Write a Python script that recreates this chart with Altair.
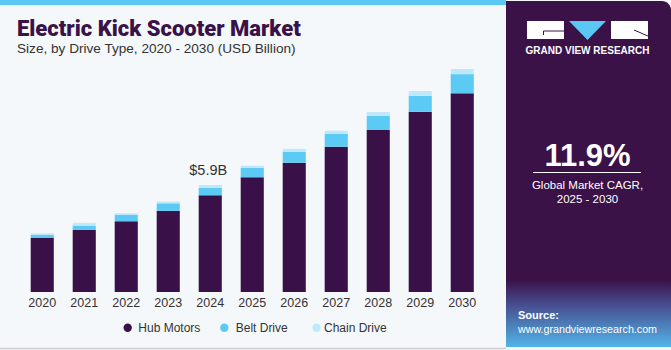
import altair as alt
import pandas as pd

years = ["2020", "2021", "2022", "2023", "2024", "2025", "2026", "2027", "2028", "2029", "2030"]
hub_motors = [2.98, 3.42, 3.90, 4.47, 5.33, 6.32, 7.13, 8.01, 8.93, 9.94, 10.95]
belt_drive = [0.17, 0.24, 0.35, 0.42, 0.42, 0.51, 0.59, 0.70, 0.79, 0.88, 1.06]
chain_drive = [0.09, 0.15, 0.09, 0.10, 0.15, 0.13, 0.17, 0.18, 0.20, 0.26, 0.28]
series = ["Hub Motors", "Belt Drive", "Chain Drive"]
colors = ["#3a1049", "#5bcbf5", "#bfe8fa"]

rows = []
for i, y in enumerate(years):
    for k, (name, vals) in enumerate(zip(series, [hub_motors, belt_drive, chain_drive])):
        rows.append({"year": y, "segment": name, "value": vals[i], "ord": k})
df = pd.DataFrame(rows)

label_year = "2024"
idx = years.index(label_year)
label_df = pd.DataFrame({
    "year": [label_year],
    "total": [hub_motors[idx] + belt_drive[idx] + chain_drive[idx]],
    "label": ["$5.9B"],
})
years_df = pd.DataFrame({"year": years})

FONT = "Liberation Sans"
PURPLE = "#3a1248"

xscale = alt.Scale(domain=years, range=[21.25, 483.25], paddingInner=0.45, paddingOuter=0.225)
yscale = alt.Scale(domain=[0, 12], range=[292, 74.3], nice=False, zero=True)

dummy = pd.DataFrame({"a": [0]})
base = alt.Chart(dummy)

top_bar = base.mark_rect(color="#5bc8f3").encode(
    x=alt.value(0), x2=alt.value(506), y=alt.value(0), y2=alt.value(5))
bottom_line = base.mark_rule(color="#cccccc", strokeWidth=1.5).encode(
    x=alt.value(0), x2=alt.value(506), y=alt.value(348.5))

panel = base.mark_rect(color=PURPLE, cornerRadiusTopRight=9).encode(
    x=alt.value(506), x2=alt.value(671), y=alt.value(1), y2=alt.value(347))
panel_grad = base.mark_rect(
    color=alt.LinearGradient(
        gradient="linear",
        stops=[alt.GradientStop(color=PURPLE, offset=0),
               alt.GradientStop(color="#474a8c", offset=0.35),
               alt.GradientStop(color="#52b4e8", offset=1)],
        x1=0, x2=0, y1=0, y2=1)
).encode(x=alt.value(506), x2=alt.value(671), y=alt.value(280), y2=alt.value(347))

logo_l = base.mark_rect(color="white").encode(
    x=alt.value(527), x2=alt.value(564), y=alt.value(21), y2=alt.value(39))
logo_r = base.mark_rect(color="white").encode(
    x=alt.value(611), x2=alt.value(648), y=alt.value(21), y2=alt.value(39))
logo_tri = base.mark_point(
    shape="M-1,-0.52L1,-0.52L0,0.52Z", filled=True, color="#5bc8f3", opacity=1, size=1369
).encode(x=alt.value(587.5), y=alt.value(30.5))
logo_g1 = base.mark_rule(color=PURPLE, strokeWidth=1).encode(
    x=alt.value(543.5), x2=alt.value(564), y=alt.value(31))
logo_g2 = base.mark_rule(color=PURPLE, strokeWidth=1).encode(
    x=alt.value(543.5), y=alt.value(31), y2=alt.value(35))
logo_r1 = base.mark_rule(color=PURPLE, strokeWidth=1).encode(
    x=alt.value(634), x2=alt.value(648), y=alt.value(30), y2=alt.value(36))
logo_text = base.mark_text(
    text="GRAND VIEW RESEARCH", font=FONT, fontSize=10, fontWeight="bold", color="white",
    align="center", baseline="middle"
).encode(x=alt.value(587.5), y=alt.value(51))

cagr = base.mark_text(
    text="11.9%", font=FONT, fontSize=31, fontWeight="bold", color="white",
    align="center", baseline="alphabetic"
).encode(x=alt.value(587.5), y=alt.value(165.5))
cagr_rule = base.mark_rule(color="white", strokeWidth=1).encode(
    x=alt.value(533), x2=alt.value(641), y=alt.value(172.5))
cagr_t1 = base.mark_text(
    text="Global Market CAGR,", font=FONT, fontSize=11.5, color="white",
    align="center", baseline="middle"
).encode(x=alt.value(587.5), y=alt.value(186))
cagr_t2 = base.mark_text(
    text="2025 - 2030", font=FONT, fontSize=11.5, color="white",
    align="center", baseline="middle"
).encode(x=alt.value(587.5), y=alt.value(200))
src1 = base.mark_text(
    text="Source:", font=FONT, fontSize=11, fontWeight="bold", color="white",
    align="left", baseline="middle"
).encode(x=alt.value(518), y=alt.value(316))
src2 = base.mark_text(
    text="www.grandviewresearch.com", font=FONT, fontSize=10.7, color="white",
    align="left", baseline="middle"
).encode(x=alt.value(518), y=alt.value(330))

title = base.mark_text(
    text="Electric Kick Scooter Market", font="Roboto", fontSize=22, fontWeight=900,
    color=PURPLE, align="left", baseline="alphabetic"
).encode(x=alt.value(17), y=alt.value(35.5))
subtitle = base.mark_text(
    text="Size, by Drive Type, 2020 - 2030 (USD Billion)", font=FONT, fontSize=13.6,
    color="#333333", align="left", baseline="alphabetic"
).encode(x=alt.value(17), y=alt.value(53))

bars = alt.Chart(df).mark_bar().encode(
    x=alt.X("year:N", scale=xscale, axis=None),
    y=alt.Y("value:Q", scale=yscale, axis=None, stack="zero"),
    color=alt.Color("segment:N", scale=alt.Scale(domain=series, range=colors), legend=None),
    order=alt.Order("ord:Q", sort="ascending"),
)

year_labels = alt.Chart(years_df).mark_text(
    font=FONT, fontSize=12.5, color="#333333", baseline="middle"
).encode(x=alt.X("year:N", scale=xscale, axis=None), y=alt.value(303), text="year:N")

value_label = alt.Chart(label_df).mark_text(
    font=FONT, fontSize=14.5, color="#333333", baseline="alphabetic", dy=-10, dx=-2
).encode(x=alt.X("year:N", scale=xscale, axis=None),
         y=alt.Y("total:Q", scale=yscale, axis=None), text="label:N")

legend_df = pd.DataFrame({
    "segment": series,
    "cx": [127.7, 224.3, 316.5],
    "tx": [138.3, 235.7, 324.0],
})
legend_pts = alt.Chart(legend_df).mark_circle(size=70, opacity=1).encode(
    x=alt.X("cx:Q", scale=None), y=alt.value(327.7),
    color=alt.Color("segment:N", scale=alt.Scale(domain=series, range=colors), legend=None))
legend_txt = alt.Chart(legend_df).mark_text(
    font=FONT, fontSize=12, color="#333333", align="left", baseline="middle"
).encode(x=alt.X("tx:Q", scale=None), y=alt.value(327.7), text="segment:N")

chart = alt.layer(
    top_bar, bottom_line, panel, panel_grad,
    logo_l, logo_r, logo_tri, logo_g1, logo_g2, logo_r1, logo_text,
    cagr, cagr_rule, cagr_t1, cagr_t2, src1, src2,
    title, subtitle,
    bars, year_labels, value_label, legend_pts, legend_txt,
).resolve_scale(x="independent", y="independent", color="independent").properties(
    width=671, height=350, padding=0, autosize=alt.AutoSizeParams(type="none")
).configure(background="#f4f8fb").configure_view(stroke=None)

chart.save("out.html", embed_options={"renderer": "svg", "actions": False})
